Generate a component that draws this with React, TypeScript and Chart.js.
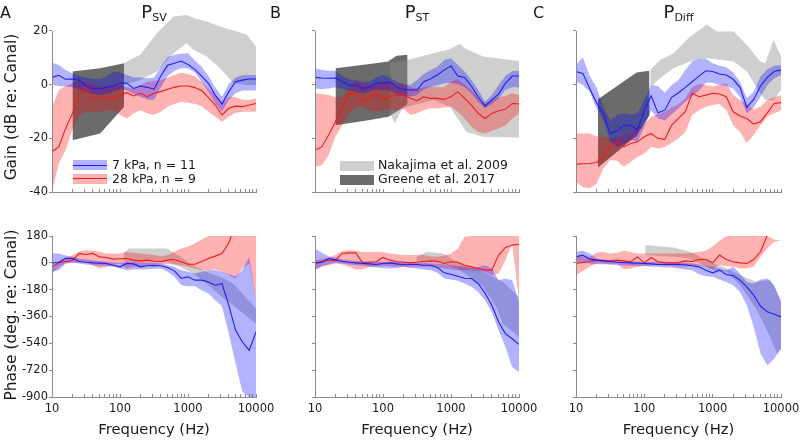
import React, { useEffect, useRef } from 'react';
import { Chart, registerables } from 'chart.js';

Chart.register(...registerables);

const FONT = "'DejaVu Sans', Verdana, sans-serif";

// ---------- shared frequency grid (Hz) ----------
const FREQ = [10, 12.59, 15.85, 19.95, 25.12, 31.62, 39.81, 50.12, 63.1, 79.43, 100, 125.9, 158.5, 199.5, 251.2, 316.2, 398.1, 501.2, 631, 794.3, 1000, 1259, 1585, 1995, 2512, 3162, 3981, 5012, 6310, 7943, 10000];
const X_TICKS = [10, 20, 30, 40, 50, 60, 70, 80, 90, 100, 200, 300, 400, 500, 600, 700, 800, 900, 1000, 2000, 3000, 4000, 5000, 6000, 7000, 8000, 9000, 10000];
const X_LABELS = [10, 100, 1000, 10000];
const GAIN_TICKS = [-40, -20, 0, 20];
const PHASE_TICKS = [-900, -720, -540, -360, -180, 0, 180];

// ---------- Panel A : P_SV gain (dB) ----------
const A_GAIN_7 = [2.7, 3.5, 2.0, 2.1, 1.7, -0.5, -1.4, -1.5, -1.0, -0.5, 0.7, 0.5, -1.4, -0.5, -1.0, -1.7, 3.2, 7.2, 8.0, 8.8, 7.5, 5.7, 3.2, 0.5, -3.9, -7.2, -2.6, 1.1, 1.7, 2.1, 2.1];
const A_GAIN_7_HI = [8.2, 7.3, 5.5, 4.2, 3.2, 2.6, 2.2, 2.0, 3.0, 4.9, 4.5, 3.6, 2.7, 2.7, 2.4, 2.7, 6.7, 10.2, 11.1, 11.5, 11.7, 9.0, 6.7, 3.2, -1.0, -4.5, 0.2, 2.7, 3.5, 3.6, 3.6];
const A_GAIN_7_LO = [-0.1, -0.5, -0.7, -1.0, -1.7, -2.7, -3.5, -3.9, -3.5, -2.6, -1.7, -2.2, -3.5, -4.5, -5.5, -5.7, -1.0, 3.2, 5.2, 6.1, 6.1, 4.5, 1.1, -2.6, -7.0, -10.1, -5.7, -3.2, -2.2, -2.2, -2.2];
const A_GAIN_28 = [-25.0, -23.2, -16.3, -10.7, -3.9, -1.0, -5.5, -4.7, -4.7, -5.1, -3.9, -3.0, -4.2, -3.2, -4.5, -3.2, -2.6, -1.7, -1.0, -0.5, -0.5, -1.1, -2.2, -4.7, -7.6, -11.3, -8.8, -8.0, -8.2, -7.6, -7.0];
const A_GAIN_28_HI = [-8.2, -2.0, -0.5, 0.5, 1.1, 1.1, 0.2, -0.7, -0.5, -0.1, -0.1, -1.0, -1.4, -0.1, 1.1, 1.5, 1.7, 2.7, 3.6, 4.5, 4.0, 3.2, 1.1, -1.4, -3.9, -6.4, -4.5, -4.7, -5.5, -5.7, -5.1];
const A_GAIN_28_LO = [-40, -29.4, -24.4, -16.9, -11.3, -10.1, -10.1, -10.1, -9.5, -9.5, -11.3, -12.6, -10.7, -9.5, -10.7, -11.3, -10.1, -8.2, -7.2, -6.4, -6.7, -7.2, -8.0, -10.1, -12.0, -13.8, -12.0, -10.5, -10.1, -10.1, -10.1];
const NAK_A_GAIN_F = [113, 198, 348, 612, 960, 1202, 1888, 2963, 4654, 7300, 10000];
const NAK_A_GAIN_HI = [8.0, 11.1, 19.2, 25.4, 26.0, 24.8, 23.5, 21.7, 20.2, 18.6, 14.2];
const NAK_A_GAIN_LO = [-0.1, 1.7, 4.9, 11.7, 15.4, 13.0, 10.5, 6.1, 0.5, -0.1, -0.1];
const GRE_A_GAIN_F = [20, 51, 115];
const GRE_A_GAIN_HI = [4.9, 6.1, 8.0];
const GRE_A_GAIN_LO = [-20.7, -18.2, -8.2];

// ---------- Panel B : P_ST gain (dB) ----------
const B_GAIN_7 = [2.7, 2.5, 2.4, 2.5, 1.2, -0.2, -0.2, -1.4, -1.0, 0.7, 0.5, 1.1, -1.0, -1.7, -2.0, -2.0, 1.1, 2.2, 3.6, 5.5, 7.0, 3.2, 2.7, -0.5, -4.5, -8.0, -5.7, -3.5, 0.5, 3.2, 3.2];
const B_GAIN_7_HI = [6.1, 5.5, 5.2, 5.2, 3.2, 2.0, 1.7, 1.1, 1.1, 2.7, 3.6, 2.7, 1.1, 0.2, -0.1, 1.7, 4.0, 5.5, 6.7, 9.2, 9.8, 7.3, 4.9, 1.7, -2.0, -6.4, -3.9, -0.1, 3.2, 5.1, 5.2];
const B_GAIN_7_LO = [-1.4, -1.7, -1.4, -1.0, -1.7, -2.2, -2.6, -3.2, -2.6, -1.7, -2.0, -2.2, -3.5, -4.2, -4.5, -3.9, -1.7, -1.0, -0.1, 0.5, 0.7, 0.2, -1.0, -3.2, -6.4, -8.8, -7.2, -5.1, -2.0, -1.0, -1.0];
const B_GAIN_28 = [-24.4, -23.2, -18.8, -13.8, -8.2, -3.2, -3.5, -6.4, -4.7, -3.2, -5.5, -4.5, -3.9, -3.9, -5.1, -6.0, -4.5, -5.1, -5.1, -5.5, -4.5, -2.6, -5.1, -7.6, -10.7, -12.6, -10.7, -9.7, -9.2, -7.0, -7.2];
const B_GAIN_28_HI = [-3.2, -3.5, -3.9, -4.7, -4.5, -1.0, 1.1, 0.5, -0.1, 0.5, 1.1, 1.1, 0.5, -0.1, -1.0, -1.4, -1.0, -1.0, -1.0, -1.0, 1.1, 2.0, -0.1, -2.0, -5.1, -7.0, -5.7, -4.7, -4.2, -3.2, -3.9];
const B_GAIN_28_LO = [-30.6, -30.0, -26.3, -19.4, -15.1, -10.7, -8.8, -8.2, -9.5, -10.1, -9.5, -9.2, -9.5, -8.8, -11.3, -10.7, -9.5, -8.8, -8.8, -8.5, -8.2, -10.1, -12.6, -15.7, -17.6, -18.2, -17.2, -16.3, -15.1, -12.6, -10.7];
const NAK_B_GAIN_F = [126, 150, 187, 230, 547, 960, 1346, 1687, 2963, 10000];
const NAK_B_GAIN_HI = [8.2, 8.5, 8.8, 9.2, 11.7, 13.2, 15.2, 13.2, 10.5, 8.8];
const NAK_B_GAIN_LO = [-10.7, -14.4, -9.5, -8.2, -5.7, -8.2, -13.8, -17.6, -19.4, -19.7];
const GRE_B_GAIN_F = [20, 64, 119, 158, 230];
const GRE_B_GAIN_HI = [6.1, 7.7, 8.6, 10.8, 11.1];
const GRE_B_GAIN_LO = [-15.1, -13.2, -12.0, -10.1, -7.2];

// ---------- Panel C : P_Diff gain (dB) ----------
const C_GAIN_7 = [4.9, 4.2, -1.4, -6.7, -10.7, -18.2, -17.2, -15.1, -15.1, -16.9, -9.5, -4.2, -10.5, -9.5, -4.7, -3.0, -1.0, 1.1, 3.2, 5.2, 4.9, 4.0, 3.6, 2.0, -1.0, -8.5, -5.5, -0.5, 2.7, 4.9, 5.5];
const C_GAIN_7_HI = [7.3, 10.2, 3.2, -1.0, -8.2, -13.4, -11.3, -10.7, -11.0, -10.7, -5.5, -0.1, -0.5, -3.0, -0.1, 1.7, 5.5, 8.6, 9.5, 9.7, 8.0, 7.0, 6.5, 4.5, 1.1, -5.1, -2.6, 3.0, 5.7, 7.0, 7.3];
const C_GAIN_7_LO = [1.1, -0.1, -2.6, -8.8, -13.2, -21.3, -23.2, -22.2, -20.4, -21.3, -15.7, -9.7, -12.6, -13.4, -11.0, -8.8, -6.4, -4.2, -2.2, 0.7, 0.7, -0.1, -0.5, -1.4, -4.7, -10.7, -8.5, -4.5, -0.1, 2.4, 3.6];
const C_GAIN_28 = [-29.6, -29.5, -29.4, -29.0, -27.1, -23.2, -21.3, -23.2, -21.9, -21.3, -19.4, -18.2, -20.0, -20.4, -15.1, -12.6, -10.1, -3.2, -4.5, -3.9, -3.2, -3.5, -4.5, -10.1, -11.7, -12.6, -14.7, -13.8, -10.5, -7.0, -6.7];
const C_GAIN_28_HI = [-18.2, -18.2, -18.2, -19.2, -19.7, -20.0, -19.7, -18.8, -18.2, -15.7, -14.7, -12.0, -11.0, -10.1, -8.5, -7.2, -5.1, -1.0, 0.2, -0.1, -0.7, -0.1, 0.5, -3.9, -5.7, -7.2, -9.2, -8.2, -5.7, -4.7, -3.9];
const C_GAIN_28_LO = [-36.2, -38.1, -38.7, -36.9, -31.3, -28.1, -28.4, -30.6, -28.8, -26.9, -25.7, -23.2, -23.8, -23.2, -21.7, -20.0, -17.6, -11.3, -9.5, -8.2, -7.6, -7.2, -9.5, -15.1, -17.6, -21.7, -18.8, -15.1, -12.0, -10.7, -9.5];
const NAK_C_GAIN_F = [122, 170, 267, 469, 822, 1153, 2024, 3170, 4977, 5890, 7800, 10000];
const NAK_C_GAIN_HI = [5.5, 9.2, 11.7, 17.9, 22.3, 19.8, 19.8, 14.8, 8.6, 8.0, 16.7, 10.5];
const NAK_C_GAIN_LO = [-1.0, 2.4, 6.1, 8.6, 9.8, 9.5, 8.6, 4.9, -3.2, -5.7, -5.7, -2.0];
const GRE_C_GAIN_F = [21, 77, 119];
const GRE_C_GAIN_HI = [-5.4, 4.5, 5.2];
const GRE_C_GAIN_LO = [-30.9, -19.0, -11.3];

// ---------- Panel A : P_SV phase (deg) ----------
const A_PHASE_7 = [0, 2, 31, 29, 9, 4, 0, -2, -4, -16, -27, -4, -7, -27, -20, -18, -20, -31, -54, -105, -94, -116, -116, -128, -150, -139, -285, -453, -531, -587, -464];
const A_PHASE_7_HI = [63, 63, 49, 40, 27, 22, 18, 13, 7, 2, 0, 7, 7, 4, 2, 0, -4, -16, -27, -49, -60, -72, -60, -49, -49, -60, -76, -90, -49, 40, -251];
const A_PHASE_7_LO = [-60, -49, -4, 0, -4, -11, -16, -20, -22, -27, -38, -49, -45, -45, -43, -40, -38, -60, -94, -150, -157, -157, -184, -206, -251, -291, -475, -676, -867, -900, -900];
const A_PHASE_28 = [-27, 0, 9, 18, 63, 56, 63, 40, 36, 25, 27, 29, 18, 13, 18, 11, 7, 18, 22, 7, -9, -9, 9, 29, 45, 63, 134, 260, null, null, null];
const A_PHASE_28_HI = [-27, 13, 29, 52, 74, 85, 81, 74, 63, 63, 63, 74, 67, 63, 58, 52, 45, 52, 74, 96, 108, 130, 157, 180, 180, 180, 180, 180, 180, 180, 180];
const A_PHASE_28_LO = [-72, -27, -4, 0, 4, 7, -16, -38, -27, -16, -4, -38, -27, -27, -22, -16, -11, -9, -11, -16, -27, -38, -49, -49, -45, -60, -83, -105, -38, -4, -251];
const NAK_A_PHASE_F = [113, 134, 488, 758, 1191, 1870, 2940, 4620, 10000];
const NAK_A_PHASE_HI = [63, 96, 96, 45, -16, -60, -94, -139, -307];
const NAK_A_PHASE_LO = [7, 7, 7, -27, -72, -139, -218, -285, -408];

// ---------- Panel B : P_ST phase (deg) ----------
const B_PHASE_7 = [-4, 4, 29, 20, 11, 4, 0, -4, -7, -11, -4, 0, -7, -13, -11, -11, -16, -16, -31, -67, -76, -90, -103, -105, -139, -202, -285, -397, -475, -509, -547];
const B_PHASE_7_HI = [96, 67, 45, 34, 22, 18, 13, 11, 7, 7, 7, 7, 7, 7, 4, 0, 0, -4, -4, -9, -16, -22, -27, -38, -27, -16, -38, -116, -105, -116, -262];
const B_PHASE_7_LO = [-49, -22, -9, 0, -4, -11, -16, -20, -27, -31, -34, -38, -34, -27, -34, -38, -45, -49, -67, -105, -112, -121, -139, -161, -195, -251, -329, -453, -565, -699, -733];
const B_PHASE_28 = [0, 9, 16, 18, 63, 67, 67, 0, 4, 7, 36, 18, 7, 4, 0, 4, 9, 13, 11, -4, 7, 4, -16, -27, -38, -49, -49, 52, 103, 119, 125];
const B_PHASE_28_HI = [18, 25, 36, 52, 81, 85, 81, 72, 72, 74, 72, 63, 58, 52, 52, 52, 52, 45, 40, 49, 63, 96, 175, 180, 180, 180, 180, 180, 180, 180, 180];
const B_PHASE_28_LO = [-45, -27, -16, -4, -11, -27, -45, -45, -27, -27, -22, -22, -27, -27, -27, -27, -27, -27, -31, -38, -45, -49, -49, -49, -54, -60, -83, -72, 18, 130, -251];
const NAK_B_PHASE_F = [311, 437, 767, 1203, 1887, 2963, 4652, 5830, 10000];
const NAK_B_PHASE_HI = [40, 74, 63, 7, -27, -60, -105, -128, -229];
const NAK_B_PHASE_LO = [7, 7, -4, -38, -94, -161, -296, -408, -497];

// ---------- Panel C : P_Diff phase (deg) ----------
const C_PHASE_7 = [40, 52, 25, 18, 13, 9, 4, 2, 0, -2, -4, -7, -11, -11, -11, -11, -13, -20, -27, -49, -67, -49, -78, -87, -116, -161, -217, -291, -329, -345, -363];
const C_PHASE_7_HI = [74, 81, 63, 29, 22, 18, 13, 11, 9, 7, 7, 7, 7, 7, 4, 2, 0, -4, -9, -22, -27, -38, -49, -27, -72, -128, -139, -112, -105, -150, -262];
const C_PHASE_7_LO = [7, 0, -4, -9, -9, -11, -16, -18, -20, -22, -22, -27, -27, -31, -31, -38, -45, -49, -76, -90, -94, -112, -128, -150, -195, -285, -430, -609, -688, -643, -576];
const C_PHASE_28 = [-4, 2, 9, 18, 13, 13, 18, 13, 7, 40, 0, 36, 7, 0, 0, 0, 13, 9, 22, 22, 0, 52, 22, 7, 0, -4, 22, 74, 185, null, null];
const C_PHASE_28_HI = [52, 45, 40, 67, 72, 63, 67, 81, 72, 63, 63, 63, 63, 63, 63, 63, 63, 67, 74, 81, 112, 148, 180, 180, 180, 180, 180, 180, 180, 157, 152];
const C_PHASE_28_LO = [-83, -54, -27, -4, -4, -9, -4, -45, -38, -27, -22, -18, -16, -20, -22, -27, -27, -22, -16, -27, -38, -16, -22, -27, -38, -38, -27, 40, 96, 141, 152];
const NAK_C_PHASE_F = [103, 267, 469, 1030, 1616, 2536, 4448, 6970, 8730, 10000];
const NAK_C_PHASE_HI = [119, 103, 74, -4, -38, -83, -128, -112, -195, -251];
const NAK_C_PHASE_LO = [52, 40, 29, -49, -60, -150, -318, -497, -609, -576];

// ---------- styles ----------
const BLUE_LINE = '#1e1ef0';
const RED_LINE = '#f01a1a';
const BLUE_BAND = 'rgba(0,0,255,0.30)';
const RED_BAND = 'rgba(255,0,0,0.30)';
const NAK_BAND = 'rgba(140,140,140,0.42)';
const GRE_BAND = 'rgba(50,50,50,0.72)';
const AXIS = '#8a8a8a';
const TEXT = '#1a1a1a';

type Series = (number | null)[];
interface Band { x: number[]; hi: Series; lo: Series; color: string; order: number }
interface Line { x: number[]; y: Series; color: string; order: number }
interface Panel {
  cx: number; cy: number; cw: number; ch: number;
  L: number; T: number; R: number; B: number;
  kind: 'gain' | 'phase';
  xLabels: boolean; yLabels: boolean;
  bands: Band[]; lines: Line[];
}

const pts = (xs: number[], ys: Series) => xs.map((x, i) => ({ x, y: ys[i] }));

// draws the y axis line only over the labelled range (the data may rise above it)
const yAxisLine = {
  id: 'yAxisLine',
  afterDraw(chart: any) {
    const ys = chart.scales.y;
    const ticks: number[] = ys.ticks.map((t: any) => t.value);
    const top = ys.getPixelForValue(Math.max(...ticks));
    const bottom = ys.getPixelForValue(Math.min(...ticks));
    const x = Math.round(chart.chartArea.left - 0.5) + 0.5;
    const ctx = chart.ctx;
    ctx.save();
    ctx.strokeStyle = AXIS;
    ctx.lineWidth = 1;
    ctx.beginPath();
    ctx.moveTo(x, top);
    ctx.lineTo(x, bottom);
    ctx.stroke();
    ctx.restore();
  },
};

function buildConfig(p: Panel): any {
  const datasets: any[] = [];
  p.lines.forEach((l) => {
    datasets.push({
      data: pts(l.x, l.y), borderColor: l.color, borderWidth: 1.1, pointRadius: 0,
      fill: false, order: l.order, tension: 0,
    });
  });
  p.bands.forEach((b) => {
    datasets.push({
      data: pts(b.x, b.hi), borderColor: 'rgba(0,0,0,0)', borderWidth: 0, pointRadius: 0,
      backgroundColor: b.color, fill: false, order: b.order,
    });
    datasets.push({
      data: pts(b.x, b.lo), borderColor: 'rgba(0,0,0,0)', borderWidth: 0, pointRadius: 0,
      backgroundColor: b.color, fill: '-1', order: b.order,
    });
  });
  const gain = p.kind === 'gain';
  return {
    type: 'line',
    data: { datasets },
    plugins: [yAxisLine],
    options: {
      animation: false,
      responsive: false,
      maintainAspectRatio: false,
      devicePixelRatio: 1,
      events: [],
      layout: { padding: { left: 0, top: p.T - p.cy, right: p.cx + p.cw - p.R, bottom: 0 } },
      plugins: { legend: { display: false }, tooltip: { enabled: false }, title: { display: false } },
      scales: {
        x: {
          type: 'logarithmic', min: 10, max: 10000,
          afterBuildTicks: (s: any) => { s.ticks = X_TICKS.map((v) => ({ value: v })); },
          afterFit: (s: any) => { s.height = p.cy + p.ch - p.B; s.paddingLeft = 0; s.paddingRight = 0; },
          ticks: {
            autoSkip: false, maxRotation: 0, minRotation: 0, padding: 8,
            font: { family: FONT, size: 11.5 }, color: TEXT,
            callback: (v: any) => (p.xLabels && X_LABELS.includes(Number(v)) ? String(v) : ''),
          },
          grid: { drawOnChartArea: false, drawTicks: true, tickLength: -3, color: AXIS },
          border: { display: true, color: AXIS, width: 1 },
          title: {
            display: p.xLabels, text: 'Frequency (Hz)', color: TEXT,
            font: { family: FONT, size: 14.8 }, padding: { top: 0, bottom: 1 },
          },
        },
        y: {
          type: 'linear', min: gain ? -40 : -900, max: gain ? 27 : 180,
          afterBuildTicks: (s: any) => { s.ticks = (gain ? GAIN_TICKS : PHASE_TICKS).map((v) => ({ value: v })); },
          afterFit: (s: any) => { s.width = p.L - p.cx; s.paddingTop = 0; s.paddingBottom = 0; },
          ticks: {
            padding: 1, font: { family: FONT, size: 11.5 }, color: TEXT,
            callback: (v: any) => (p.yLabels ? String(v) : ''),
          },
          grid: { drawOnChartArea: false, drawTicks: true, tickLength: 3, color: AXIS },
          border: { display: false },
          title: { display: false },
        },
      },
    },
  };
}

function mkPanel(col: number, row: number, kind: 'gain' | 'phase',
  blue: [Series, Series, Series], red: [Series, Series, Series],
  nak: [number[], Series, Series], gre: [number[], Series, Series] | null): Panel {
  const cols = [
    { cx: 0, cw: 290, L: 52, R: 256 },
    { cx: 270, cw: 290, L: 315, R: 519 },
    { cx: 540, cw: 260, L: 576, R: 781 },
  ];
  // gain rows run to 27 dB at the top of the plot area (20 dB sits at y = 31)
  const rows = [
    { cy: 0, ch: 220, T: 12.2, B: 192 },
    { cy: 220, ch: 220, T: 236, B: 397 },
  ];
  const c = cols[col];
  const r = rows[row];
  const bands: Band[] = [];
  if (gre) bands.push({ x: gre[0], hi: gre[1], lo: gre[2], color: GRE_BAND, order: 10 });
  bands.push({ x: nak[0], hi: nak[1], lo: nak[2], color: NAK_BAND, order: 9 });
  bands.push({ x: FREQ, hi: red[1], lo: red[2], color: RED_BAND, order: 8 });
  bands.push({ x: FREQ, hi: blue[1], lo: blue[2], color: BLUE_BAND, order: 7 });
  return {
    cx: c.cx, cw: c.cw, L: c.L, R: c.R, cy: r.cy, ch: r.ch, T: r.T, B: r.B,
    kind, xLabels: row === 1, yLabels: col === 0,
    bands,
    lines: [
      { x: FREQ, y: red[0], color: RED_LINE, order: 2 },
      { x: FREQ, y: blue[0], color: BLUE_LINE, order: 1 },
    ],
  };
}

const PANELS: Panel[] = [
  mkPanel(0, 0, 'gain', [A_GAIN_7, A_GAIN_7_HI, A_GAIN_7_LO], [A_GAIN_28, A_GAIN_28_HI, A_GAIN_28_LO],
    [NAK_A_GAIN_F, NAK_A_GAIN_HI, NAK_A_GAIN_LO], [GRE_A_GAIN_F, GRE_A_GAIN_HI, GRE_A_GAIN_LO]),
  mkPanel(1, 0, 'gain', [B_GAIN_7, B_GAIN_7_HI, B_GAIN_7_LO], [B_GAIN_28, B_GAIN_28_HI, B_GAIN_28_LO],
    [NAK_B_GAIN_F, NAK_B_GAIN_HI, NAK_B_GAIN_LO], [GRE_B_GAIN_F, GRE_B_GAIN_HI, GRE_B_GAIN_LO]),
  mkPanel(2, 0, 'gain', [C_GAIN_7, C_GAIN_7_HI, C_GAIN_7_LO], [C_GAIN_28, C_GAIN_28_HI, C_GAIN_28_LO],
    [NAK_C_GAIN_F, NAK_C_GAIN_HI, NAK_C_GAIN_LO], [GRE_C_GAIN_F, GRE_C_GAIN_HI, GRE_C_GAIN_LO]),
  mkPanel(0, 1, 'phase', [A_PHASE_7, A_PHASE_7_HI, A_PHASE_7_LO], [A_PHASE_28, A_PHASE_28_HI, A_PHASE_28_LO],
    [NAK_A_PHASE_F, NAK_A_PHASE_HI, NAK_A_PHASE_LO], null),
  mkPanel(1, 1, 'phase', [B_PHASE_7, B_PHASE_7_HI, B_PHASE_7_LO], [B_PHASE_28, B_PHASE_28_HI, B_PHASE_28_LO],
    [NAK_B_PHASE_F, NAK_B_PHASE_HI, NAK_B_PHASE_LO], null),
  mkPanel(2, 1, 'phase', [C_PHASE_7, C_PHASE_7_HI, C_PHASE_7_LO], [C_PHASE_28, C_PHASE_28_HI, C_PHASE_28_LO],
    [NAK_C_PHASE_F, NAK_C_PHASE_HI, NAK_C_PHASE_LO], null),
];

function PanelChart({ p }: { p: Panel }) {
  const ref = useRef<HTMLCanvasElement>(null);
  useEffect(() => {
    if (!ref.current) return;
    const chart = new Chart(ref.current, buildConfig(p));
    return () => chart.destroy();
  }, [p]);
  return (
    <canvas
      ref={ref}
      width={p.cw}
      height={p.ch}
      style={{ position: 'absolute', left: p.cx, top: p.cy, width: p.cw, height: p.ch, pointerEvents: 'none' }}
    />
  );
}

const txt: React.CSSProperties = { position: 'absolute', fontFamily: FONT, color: TEXT, whiteSpace: 'nowrap', lineHeight: 1, zIndex: 5 };

function Title({ center, main, sub }: { center: number; main: string; sub: string }) {
  return (
    <div style={{ ...txt, left: center - 60, width: 120, top: 3, textAlign: 'center', fontSize: 18, lineHeight: '18px' }}>
      {main}
      <span style={{ fontSize: 11, verticalAlign: -3 }}>{sub}</span>
    </div>
  );
}

function YTitle({ cx, cy, text }: { cx: number; cy: number; text: string }) {
  return (
    <div style={{
      ...txt, left: cx - 110, top: cy - 9, width: 220, height: 18, lineHeight: '18px',
      textAlign: 'center', fontSize: 15.4, transform: 'rotate(-90deg)', transformOrigin: '50% 50%',
    }}>{text}</div>
  );
}

function Swatch({ left, top, fill, line }: { left: number; top: number; fill: string; line?: string }) {
  return (
    <div style={{ position: 'absolute', left, top, width: 34, height: 10, background: fill, zIndex: 5 }}>
      {line ? <div style={{ position: 'absolute', left: 0, top: 4.5, width: 34, height: 1.3, background: line }} /> : null}
    </div>
  );
}

export default function App() {
  return (
    <div style={{ position: 'fixed', left: 0, top: 0, width: 800, height: 440, background: '#ffffff', overflow: 'hidden' }}>
      {PANELS.map((p, i) => <PanelChart key={i} p={p} />)}
      <div style={{ ...txt, left: 0, top: 4.5, fontSize: 16 }}>A</div>
      <div style={{ ...txt, left: 270, top: 4.5, fontSize: 16 }}>B</div>
      <div style={{ ...txt, left: 533, top: 4.5, fontSize: 16 }}>C</div>
      <Title center={154} main="P" sub="SV" />
      <Title center={417} main="P" sub="ST" />
      <Title center={678.5} main="P" sub="Diff" />
      <YTitle cx={11} cy={107} text="Gain (dB re: Canal)" />
      <YTitle cx={11} cy={315} text="Phase (deg. re: Canal)" />
      <Swatch left={73} top={160} fill={BLUE_BAND} line={BLUE_LINE} />
      <Swatch left={73} top={173.5} fill={RED_BAND} line={RED_LINE} />
      <div style={{ ...txt, left: 112, top: 159, fontSize: 12.5 }}>7 kPa, n = 11</div>
      <div style={{ ...txt, left: 112, top: 172.5, fontSize: 12.5 }}>28 kPa, n = 9</div>
      <Swatch left={340} top={160.5} fill={NAK_BAND} />
      <Swatch left={340} top={174.5} fill={GRE_BAND} />
      <div style={{ ...txt, left: 378, top: 159, fontSize: 12.5 }}>Nakajima et al. 2009</div>
      <div style={{ ...txt, left: 378, top: 173, fontSize: 12.5 }}>Greene et al. 2017</div>
    </div>
  );
}
